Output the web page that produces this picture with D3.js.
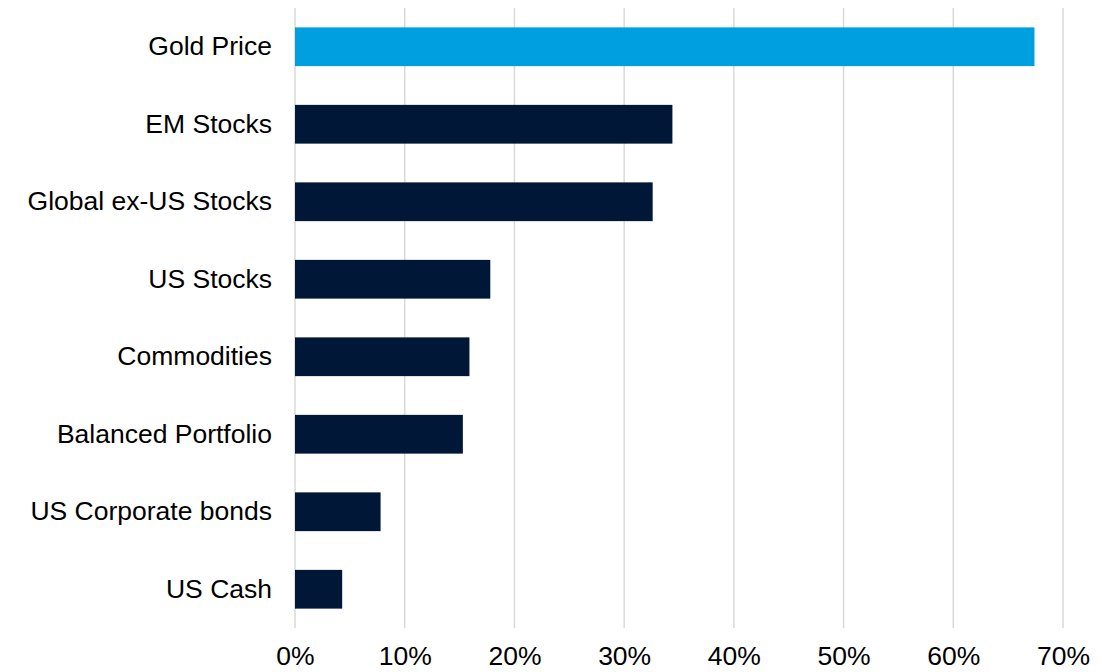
<!DOCTYPE html>
<html><head><meta charset="utf-8">
<script src="https://cdn.jsdelivr.net/npm/d3@7"></script>
<style>body{margin:0;background:#fff}svg{display:block}</style>
</head><body>
<svg id="c" width="1114" height="672"></svg>
<script>
const categories = ["Gold Price","EM Stocks","Global ex-US Stocks","US Stocks","Commodities","Balanced Portfolio","US Corporate bonds","US Cash"];
const values = [67.4, 34.4, 32.6, 17.8, 15.9, 15.3, 7.8, 4.3];
const tickValues = [0,10,20,30,40,50,60,70];
const highlight = "Gold Price";

const svg = d3.select("#c");
const x = d3.scaleLinear().domain([0,70]).range([295,1063]);
const y = d3.scaleBand().domain(categories).range([8,628]).paddingInner(0.5).paddingOuter(0.25);
const fs = 26.5;

svg.append("g").selectAll("line").data(tickValues).join("line")
  .attr("x1",d=>x(d)).attr("x2",d=>x(d)).attr("y1",8).attr("y2",628)
  .attr("stroke","#d9d9d9").attr("stroke-width",1.5);

svg.append("g").selectAll("rect").data(categories).join("rect")
  .attr("x",x(0)).attr("y",d=>y(d))
  .attr("width",(d,i)=>x(values[i])-x(0)).attr("height",y.bandwidth())
  .attr("fill",d=>d===highlight?"#009fdf":"#001737");

const xa = svg.append("g").attr("transform","translate(0,628)")
  .call(d3.axisBottom(x).tickValues(tickValues).tickFormat(d=>d+"%").tickSize(0).tickPadding(18));
xa.select(".domain").remove();
xa.selectAll("text").attr("font-family","Liberation Sans, Arial, sans-serif").attr("font-size",fs).attr("fill","#000");

const ya = svg.append("g").attr("transform","translate(295,0)")
  .call(d3.axisLeft(y).tickSize(0).tickPadding(23));
ya.select(".domain").remove();
ya.selectAll("text").attr("font-family","Liberation Sans, Arial, sans-serif").attr("font-size",fs).attr("fill","#000");
</script>
</body></html>
